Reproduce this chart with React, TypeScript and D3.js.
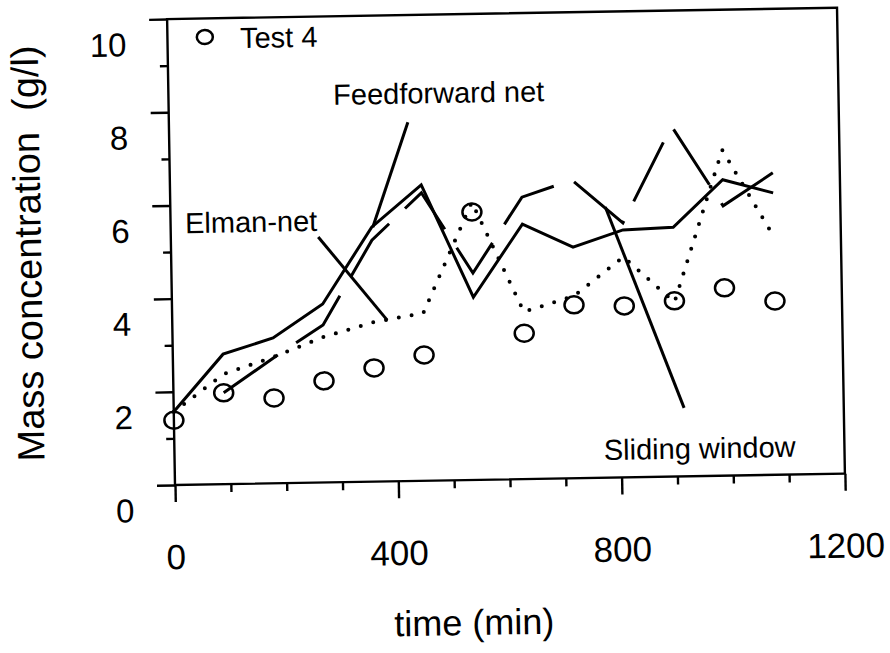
import * as d3 from 'd3'
import { FC, useEffect, useRef } from 'react'

const WIDTH = 890
const HEIGHT = 653
// plot origin (time 0, conc 0) in page pixels, size of the plot box
const ORIGIN = { x: 175, y: 485 }
const PLOT_W = 670
const PLOT_H = 466
// the scanned figure sits slightly askew
const TILT = -0.97

const FONT = "'Liberation Sans', Arial, Helvetica, sans-serif"

const TIMES = [0, 90, 180, 270, 360, 450, 540, 630, 720, 810, 900, 990, 1080]
const TEST4 = [1.39, 1.96, 1.83, 2.18, 2.44, 2.7, 5.75, 3.13, 3.72, 3.68, 3.77, 4.03, 3.73]
const FEEDFORWARD = [1.57, 2.79, 3.12, 3.83, 5.46, 6.35, 3.92, 5.47, 4.96, 5.31, 5.35, 6.35, 6.05]
const ELMAN = [1.57, 2.36, 2.71, 3.12, 3.42, 3.6, 5.96, 3.59, 3.91, 4.73, 3.74, 6.99, 5.11]
const SLIDING_TIMES = TIMES.slice(1)
const SLIDING = [1.96, 2.69, 3.38, 5.18, 6.18, 4.44, 6.05, 6.4, 5.46, 7.52, 5.79, 6.48]

const X_MAJOR = [0, 400, 800, 1200]
const X_MINOR = [100, 200, 300, 500, 600, 700, 900, 1000, 1100]
const Y_MAJOR = [0, 2, 4, 6, 8, 10]
const Y_MINOR = [1, 3, 5, 7, 9]

// annotations: label start [time, conc], leader from -> to
const LABELS = [
  { text: 'Feedforward net', at: [295, 8.1], from: [428, 7.7], to: [362, 5.46] },
  { text: 'Elman-net', at: [26, 5.4], from: [264, 5.27], to: [385, 3.46] },
  { text: 'Sliding window', at: [769, 0.38], from: [914, 1.47], to: [779, 5.81] },
]
const LEGEND = { text: 'Test 4', marker: [67, 9.6], at: [130, 9.35] }

const App: FC = () => {
  const axesRef = useRef<SVGGElement>(null)

  const xScale = d3.scaleLinear().domain([0, 1200]).range([0, PLOT_W])
  const yScale = d3.scaleLinear().domain([0, 10]).range([PLOT_H, 0])

  useEffect(() => {
    const g = d3.select(axesRef.current)
    g.selectAll('*').remove()

    const style = (sel: any) => {
      sel.select('.domain').remove()
      sel.selectAll('line').attr('stroke', '#000').attr('stroke-width', 2.4)
      sel.selectAll('text').remove()
    }

    g.append('g').call(d3.axisLeft(yScale).tickValues(Y_MAJOR).tickSize(18)).call(style)
    g.append('g').call(d3.axisLeft(yScale).tickValues(Y_MINOR).tickSize(8)).call(style)
    g.append('g')
      .attr('transform', `translate(0,${PLOT_H})`)
      .call(d3.axisBottom(xScale).tickValues(X_MAJOR).tickSize(17))
      .call(style)
    g.append('g')
      .attr('transform', `translate(0,${PLOT_H})`)
      .call(d3.axisBottom(xScale).tickValues(X_MINOR).tickSize(8))
      .call(style)

    // plot box
    g.append('rect')
      .attr('x', 0)
      .attr('y', 0)
      .attr('width', PLOT_W)
      .attr('height', PLOT_H)
      .attr('fill', 'none')
      .attr('stroke', '#000')
      .attr('stroke-width', 2.4)
  }, [])

  const line = d3
    .line<[number, number]>()
    .x((d) => xScale(d[0]))
    .y((d) => yScale(d[1]))

  const ffPath = line(TIMES.map((t, i) => [t, FEEDFORWARD[i]]))
  const elPath = line(TIMES.map((t, i) => [t, ELMAN[i]]))
  const swPath = line(SLIDING_TIMES.map((t, i) => [t, SLIDING[i]]))

  return (
    <svg
      width={WIDTH}
      height={HEIGHT}
      style={{ position: 'absolute', left: 0, top: 0, background: '#fff' }}
      fontFamily={FONT}
    >
      <g transform={`rotate(${TILT},${ORIGIN.x},${ORIGIN.y}) translate(${ORIGIN.x},${ORIGIN.y - PLOT_H})`}>
        <g ref={axesRef} />

        {/* tick labels */}
        {Y_MAJOR.map((v) => (
          <text
            key={'y' + v}
            x={-41}
            y={yScale(v) + 25}
            textAnchor='end'
            dominantBaseline='central'
            fontSize={33}
          >
            {v}
          </text>
        ))}
        {X_MAJOR.map((t) => (
          <text key={'x' + t} x={xScale(t)} y={PLOT_H + 84} textAnchor='middle' fontSize={35}>
            {t}
          </text>
        ))}

        {/* axis titles */}
        <text x={xScale(0) + 297} y={PLOT_H + 155} textAnchor='middle' fontSize={36}>
          time (min)
        </text>
        <text
          transform={`translate(-130,${PLOT_H - 234}) rotate(-90)`}
          textAnchor='middle'
          fontSize={38}
          style={{ whiteSpace: 'pre' }}
        >
          Mass concentration  (g/l)
        </text>

        {/* model curves */}
        <path d={ffPath as string} fill='none' stroke='#000' strokeWidth={3} strokeLinejoin='miter' />
        <path
          d={swPath as string}
          fill='none'
          stroke='#000'
          strokeWidth={3}
          strokeDasharray='66 22'
        />
        <path
          d={elPath as string}
          fill='none'
          stroke='#000'
          strokeWidth={4}
          strokeLinecap='round'
          strokeDasharray='0 13'
        />

        {/* measured points */}
        {TIMES.map((t, i) => (
          <ellipse
            key={'p' + t}
            cx={xScale(t)}
            cy={yScale(TEST4[i])}
            rx={9.5}
            ry={8.5}
            fill='none'
            stroke='#000'
            strokeWidth={2.5}
          />
        ))}

        {/* annotations */}
        {LABELS.map((l) => (
          <g key={l.text}>
            <line
              x1={xScale(l.from[0])}
              y1={yScale(l.from[1])}
              x2={xScale(l.to[0])}
              y2={yScale(l.to[1])}
              stroke='#000'
              strokeWidth={3}
            />
            <text x={xScale(l.at[0])} y={yScale(l.at[1])} fontSize={29}>
              {l.text}
            </text>
          </g>
        ))}

        {/* legend */}
        <ellipse
          cx={xScale(LEGEND.marker[0])}
          cy={yScale(LEGEND.marker[1])}
          rx={8}
          ry={7}
          fill='none'
          stroke='#000'
          strokeWidth={2.5}
        />
        <text x={xScale(LEGEND.at[0])} y={yScale(LEGEND.at[1])} fontSize={29}>
          {LEGEND.text}
        </text>
      </g>
    </svg>
  )
}

export default App
